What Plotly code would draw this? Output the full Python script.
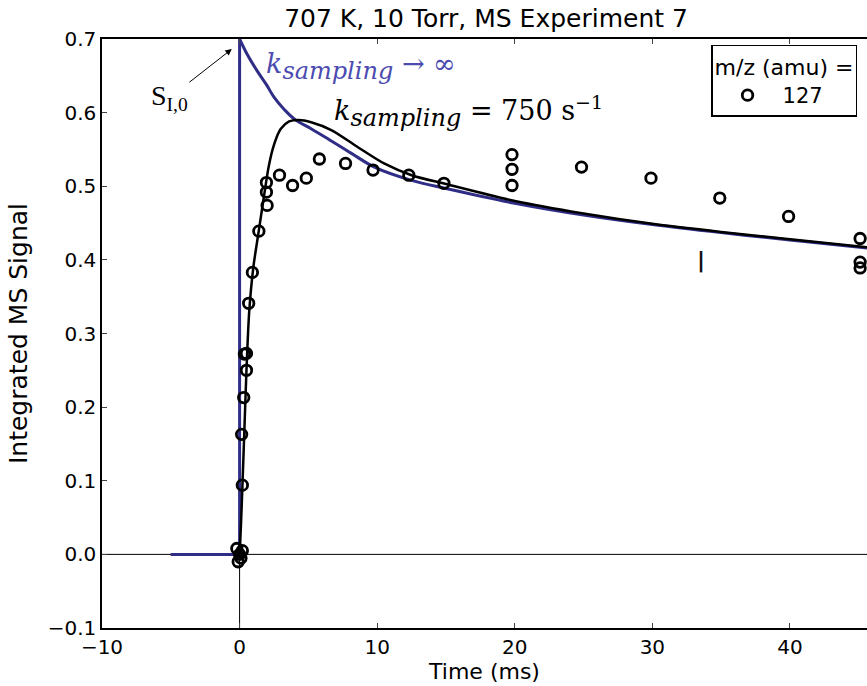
import plotly.graph_objects as go

# ---- data ----
data_x = [-0.2, 0.0, 0.1, -0.1, 0.2, 0.2, 0.15, 0.3, 0.5, 0.35, 0.5, 0.66, 0.93, 1.4,
          2.0, 1.95, 1.95, 2.9, 3.85, 4.85, 5.8, 7.7, 9.7, 12.3, 14.85,
          19.8, 19.8, 19.8, 24.85, 29.9, 34.9, 39.9, 45.1, 45.1, 45.1]
data_y = [0.008, 0.0, -0.005, -0.01, 0.005, 0.094, 0.163, 0.213, 0.25, 0.272, 0.273, 0.341, 0.383, 0.439,
          0.474, 0.492, 0.505, 0.515, 0.501, 0.511, 0.537, 0.531, 0.522, 0.515, 0.504,
          0.543, 0.523, 0.501, 0.526, 0.511, 0.484, 0.459, 0.429, 0.397, 0.389]

# k_sampling -> infinity: baseline + jump, then decay
inf_step_x = [-5, 0, 0]
inf_step_y = [0, 0, 0.7]
inf_x = [0, 0.56, 1.3, 1.95, 2.5, 3.26, 4.0, 5.2, 6.2, 8.1, 9.8, 12.5, 15, 20, 25, 30, 35, 40, 45.6]
inf_y = [0.7, 0.679, 0.656, 0.638, 0.621, 0.604, 0.591, 0.578, 0.567, 0.545, 0.526, 0.508, 0.497,
         0.477, 0.461, 0.448, 0.437, 0.427, 0.416]

# k_sampling = 750 s^-1
k750_base_x = [-5, 0]
k750_base_y = [0, 0]
k750_x = [0, 0.1, 0.2, 0.35, 0.5, 0.7, 1.0, 1.4, 1.8, 2.1, 2.4, 2.7, 3.0, 3.6, 4.3, 5.2, 6.7, 8.6,
          10.5, 12.5, 15, 20, 25, 30, 35, 40, 45.6]
k750_y = [0, 0.04, 0.09, 0.17, 0.25, 0.33, 0.39, 0.44, 0.49, 0.525, 0.55, 0.567, 0.578, 0.588, 0.59,
          0.587, 0.576, 0.553, 0.531, 0.515, 0.503, 0.480, 0.463, 0.449, 0.438, 0.428, 0.417]

x_ticks = [-10, 0, 10, 20, 30, 40]
y_ticks = [-0.1, 0.0, 0.1, 0.2, 0.3, 0.4, 0.5, 0.6, 0.7]

BLUE_LINE = "#2f2d85"
BLUE_TEXT = "#4b4bb0"
SANS = "DejaVu Sans"
SERIF = "DejaVu Serif"

fig = go.Figure()

fig.add_trace(go.Scatter(x=k750_base_x, y=k750_base_y, mode="lines",
                         line=dict(color="black", width=2.5), showlegend=False, hoverinfo="skip"))
fig.add_trace(go.Scatter(x=inf_step_x, y=inf_step_y, mode="lines",
                         line=dict(color=BLUE_LINE, width=3), showlegend=False, hoverinfo="skip"))
fig.add_trace(go.Scatter(x=inf_x, y=inf_y, mode="lines", line=dict(color=BLUE_LINE, width=3, shape="spline"),
                         showlegend=False, hoverinfo="skip"))
fig.add_trace(go.Scatter(x=k750_x, y=k750_y, mode="lines",
                         line=dict(color="black", width=2.5, shape="spline", smoothing=0.8),
                         showlegend=False, hoverinfo="skip"))
fig.add_trace(go.Scatter(x=data_x, y=data_y, mode="markers", name="127",
                         marker=dict(symbol="circle-open", size=10.5, color="black",
                                     line=dict(color="black", width=2.8))))

# reference lines at x=0, y=0
fig.add_hline(y=0, line=dict(color="black", width=1), layer="below")
fig.add_vline(x=0, line=dict(color="black", width=1), layer="below")

fig.add_annotation(x=-0.45, y=0.688, xref="x", yref="y", ax=-64, ay=50,
                   text="S<sub>I,0</sub>", showarrow=True, arrowhead=2, arrowsize=1.3,
                   arrowwidth=1, arrowcolor="black", standoff=2,
                   font=dict(family="Liberation Serif", size=28, color="black"))
fig.add_annotation(x=1.75, y=0.662, xref="x", yref="y", xanchor="left", yanchor="middle",
                   text="<i>k</i><sub><span style='font-size:24px'><i>sampling</i></span></sub> → ∞",
                   showarrow=False,
                   font=dict(family=SERIF, size=27, color=BLUE_TEXT))
fig.add_annotation(x=6.7, y=0.601, xref="x", yref="y", xanchor="left", yanchor="middle",
                   text="<i>k</i><sub><span style='font-size:24px'><i>sampling</i></span></sub> = 750 s<sup><span style='font-size:19px'>−1</span></sup>",
                   showarrow=False,
                   font=dict(family=SERIF, size=27, color="black"))
fig.add_annotation(x=33.5, y=0.40, xref="x", yref="y", text="<b>|</b>", showarrow=False,
                   font=dict(family=SANS, size=22, color="#111111"))

fig.update_layout(
    width=867, height=686,
    margin=dict(l=102, r=0, t=39, b=58),
    paper_bgcolor="white", plot_bgcolor="white",
    title=dict(text="707 K, 10 Torr, MS Experiment 7", xref="paper", x=0.502, xanchor="center",
               yref="container", y=0.974, yanchor="middle",
               font=dict(family=SANS, size=25, color="black")),
    font=dict(family=SANS, size=20, color="black"),
    legend=dict(x=0.987, y=0.99, xanchor="right", yanchor="top",
                bordercolor="black", borderwidth=1.5, bgcolor="white",
                title=dict(text="m/z (amu) =", font=dict(family=SANS, size=22)),
                font=dict(family=SANS, size=21), itemwidth=60, tracegroupgap=0),
    xaxis=dict(range=[-10, 45.6], tickvals=x_ticks, ticks="inside", ticklen=5,
               showline=True, linecolor="black", linewidth=1.5, mirror="ticks",
               showgrid=False, zeroline=False,
               title=dict(text="Time (ms)", font=dict(size=22), standoff=0),
               tickfont=dict(size=20)),
    yaxis=dict(range=[-0.1, 0.7], tickvals=y_ticks, tickformat=".1f", ticks="inside", ticklen=5,
               showline=True, linecolor="black", linewidth=1.5, mirror=False,
               showgrid=False, zeroline=False,
               title=dict(text="Integrated MS Signal", font=dict(size=25), standoff=13),
               tickfont=dict(size=20)),
)

fig.write_html("out.html")
